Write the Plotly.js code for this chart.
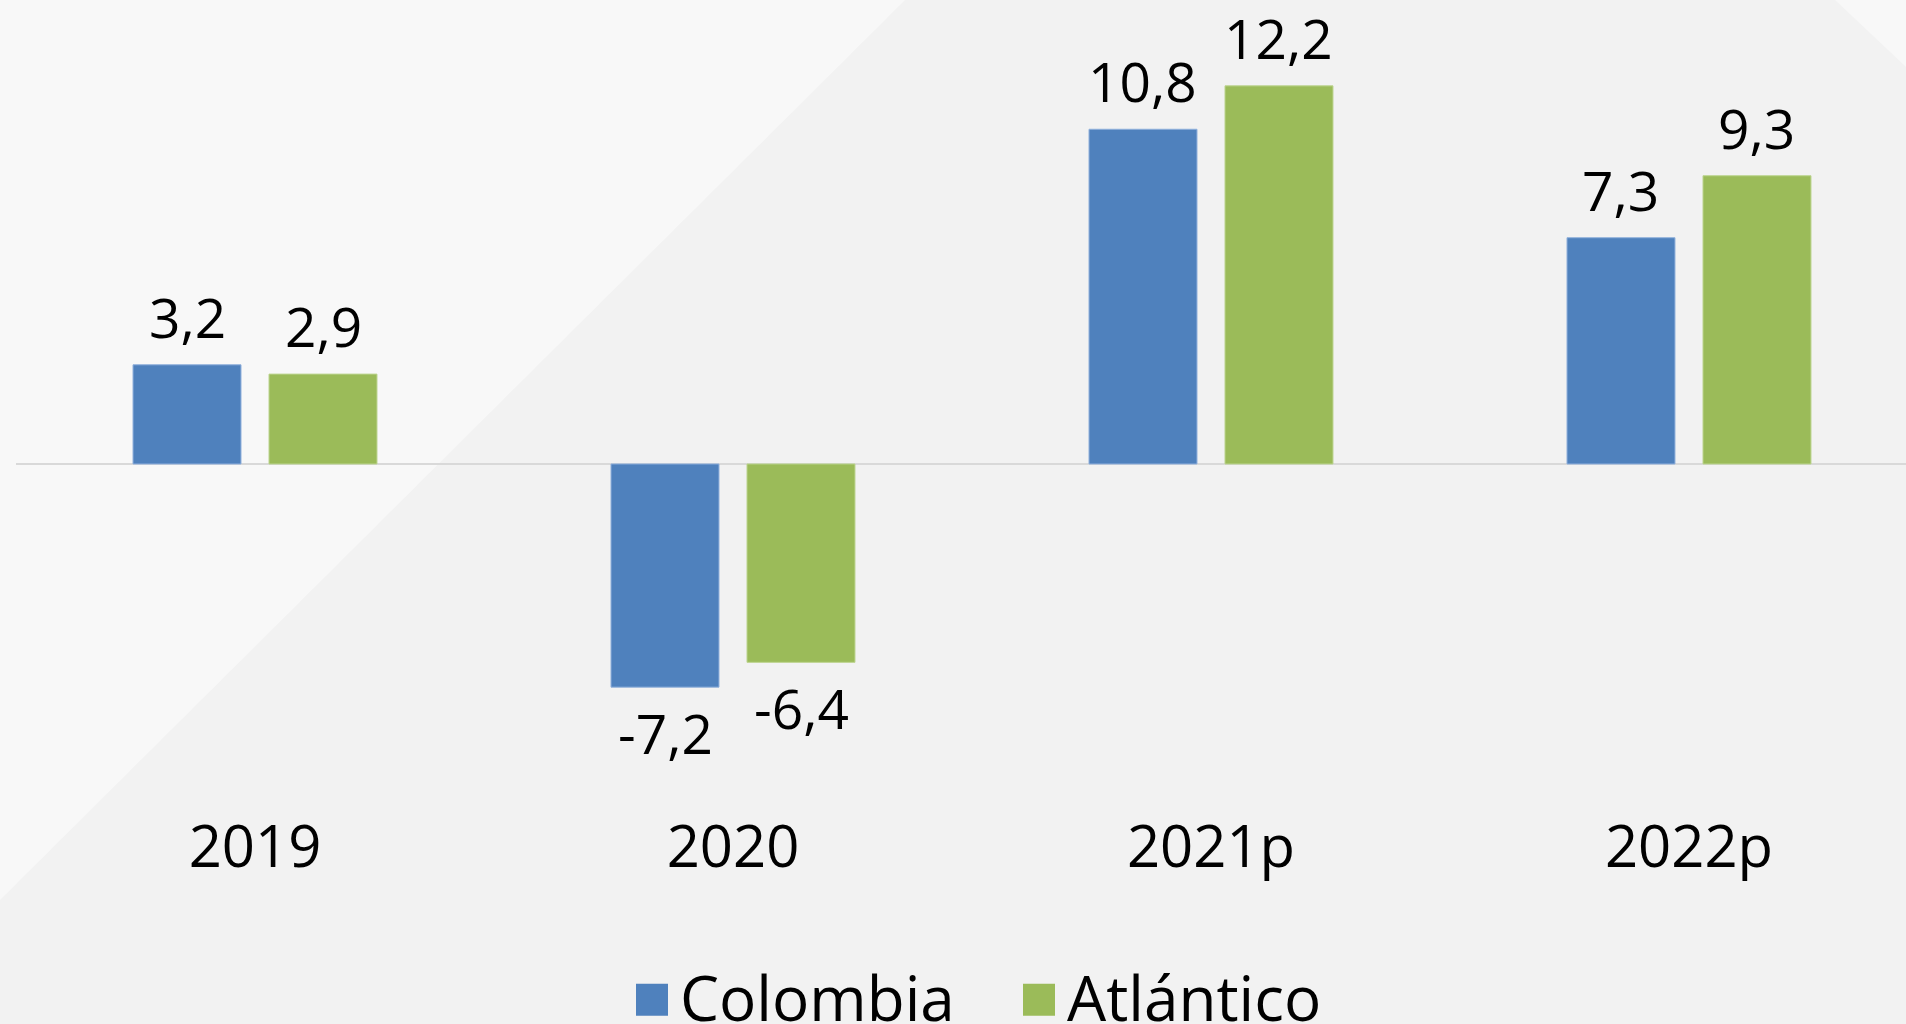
<!DOCTYPE html>
<html>
<head>
<meta charset="utf-8">
<script src="https://cdn.plot.ly/plotly-3.0.1.min.js"></script>
<style>html,body{margin:0;padding:0;background:#f2f2f2;overflow:hidden;}#chart{width:1906px;height:1024px;}</style>
</head>
<body>
<div id="chart"></div>
<script>
const categories = ["2019", "2020", "2021p", "2022p"];
const colombia = [3.2, -7.2, 10.8, 7.3];
const atlantico = [2.9, -6.4, 12.2, 9.3];
const seriesNames = ["Colombia", "Atlántico"];

const W = 1906, H = 1024, L = 16, B = 220;
const plotW = W - L, plotH = H - B;
function px(x){ return (x - L) / plotW; }
function py(y){ return (H - B - y) / plotH; }

const fontFam = "Open Sans, sans-serif";
const colors = ["#4f81bd", "#9bbb59"];
const edgeColors = ["#8fb0dc", "#bcd48e"];
const seriesValues = [colombia, atlantico];
const groupShift = [-68, 68];

const traces = seriesValues.map(function(vals, k){
  return {type: "bar", name: seriesNames[k], x: categories, y: vals,
    marker: {color: colors[k], line: {color: edgeColors[k], width: 1}},
    hoverinfo: "skip"};
});

function fmt(v){ return v.toFixed(1).replace(".", ","); }

const annotations = [];
seriesValues.forEach(function(vals, k){
  vals.forEach(function(v, i){
    annotations.push({
      x: i, y: v, xref: "x", yref: "y",
      text: fmt(v), showarrow: false,
      xanchor: "center", yanchor: v >= 0 ? "bottom" : "top",
      xshift: groupShift[k], yshift: v >= 0 ? 9 : -6,
      font: {family: fontFam, size: 55, color: "#000"}
    });
  });
});

const layout = {
  width: W, height: H,
  margin: {l: L, r: 0, t: 0, b: B, pad: 0},
  paper_bgcolor: "#f2f2f2",
  plot_bgcolor: "rgba(0,0,0,0)",
  separators: ",.",
  barmode: "group",
  bargap: 0.431,
  bargroupgap: 0.206,
  showlegend: true,
  font: {family: fontFam, color: "#000"},
  xaxis: {type: "category", range: [-0.5, 3.454], showgrid: false, showline: false,
          ticks: "", tickfont: {family: fontFam, size: 58, color: "#000"}, ticklabelstandoff: 4},
  yaxis: {range: [-10.97, 14.97], visible: true, showgrid: false, showticklabels: false,
          zeroline: true, zerolinecolor: "#d9d9d9", zerolinewidth: 2, ticks: ""},
  legend: {orientation: "h", x: px(640), xanchor: "left", y: py(1020), yanchor: "bottom",
           font: {family: fontFam, size: 62, color: "#000"}, bgcolor: "rgba(0,0,0,0)",
           itemwidth: 30, entrywidth: 342, entrywidthmode: "pixels",
           traceorder: "normal", itemclick: false},
  annotations: annotations,
  shapes: [
    {type: "path", xref: "paper", yref: "paper", layer: "below", line: {width: 0},
     fillcolor: "#f8f8f8",
     path: `M ${px(0)} ${py(0)} L ${px(905)} ${py(0)} L ${px(0)} ${py(900)} Z`},
    {type: "path", xref: "paper", yref: "paper", layer: "below", line: {width: 0},
     fillcolor: "#f8f8f8",
     path: `M ${px(1835)} ${py(0)} L ${px(1906)} ${py(0)} L ${px(1906)} ${py(67)} Z`}
  ]
};

Plotly.newPlot("chart", traces, layout, {staticPlot: true, displayModeBar: false}).then(function(gd){
  document.querySelectorAll("#chart .legendpoints path").forEach(function(p){
    p.setAttribute("d", "M8,19H-24V-13H8Z");
    p.style.strokeWidth = "0px";
  });
  document.querySelectorAll("#chart defs clipPath[id*='legend'] rect").forEach(function(r){
    r.setAttribute("x", "-60"); r.setAttribute("width", "3000"); r.setAttribute("height", "400");
  });
  const lg = document.querySelector("#chart g.legend");
  if (lg) {
    const t = lg.getAttribute("transform") || "";
    const m = t.match(/translate\(\s*([-\d.]+)[ ,]+([-\d.]+)\s*\)/);
    if (m) lg.setAttribute("transform", "translate(" + m[1] + "," + (parseFloat(m[2]) + 24) + ")");
  }
});
</script>
</body>
</html>
